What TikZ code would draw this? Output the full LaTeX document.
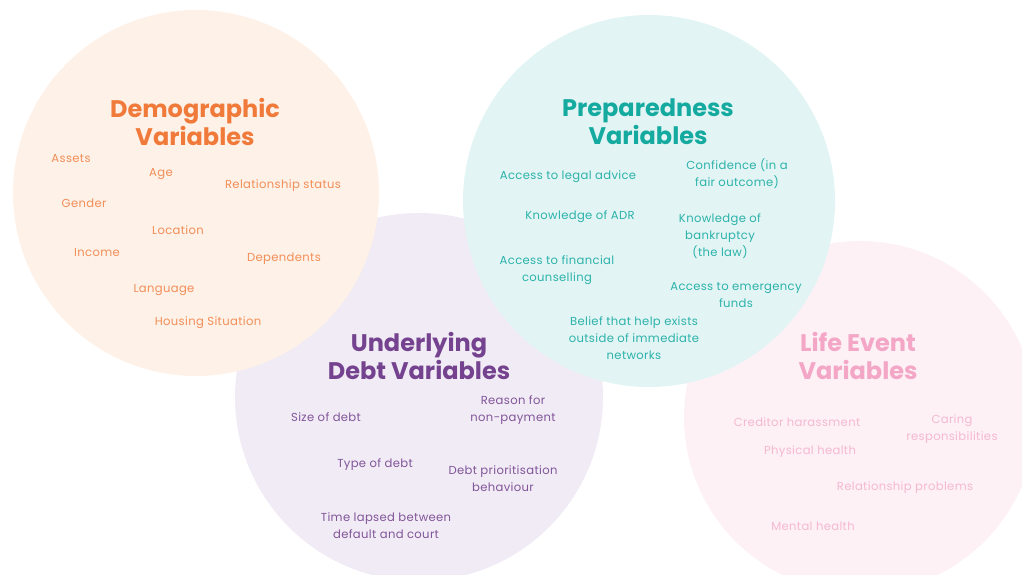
\documentclass[tikz,border=0pt]{standalone}
\usepackage{fontspec}
\setmainfont{Poppins}
\usepackage{xcolor}
\usetikzlibrary{calc}

\definecolor{demofill}{HTML}{FEF1E8}
\definecolor{demotext}{HTML}{F07A3A}
\definecolor{prepfill}{HTML}{E2F5F4}
\definecolor{preptext}{HTML}{15AAA0}
\definecolor{debtfill}{HTML}{F0EBF4}
\definecolor{debttext}{HTML}{74428F}
\definecolor{lifefill}{HTML}{FDF1F5}
\definecolor{lifetext}{HTML}{F3A6C6}

\begin{document}
\begin{tikzpicture}[x=1pt,y=-1pt]
\tikzset{
    bubble/.style={circle, draw=none, inner sep=0pt},
    head/.style={align=center, inner sep=0pt, font=\fontsize{24}{28}\selectfont\bfseries},
    item/.style={align=center, inner sep=0pt, font=\fontsize{11.6}{17}\selectfont\addfontfeatures{LetterSpace=3}}
}
\useasboundingbox (0,0) rectangle (1022,575);

% Circles
\node[bubble, fill=debtfill, minimum size=368pt] (debt) at (419,397){};
\node[bubble, fill=lifefill, minimum size=352pt] (life) at (860,417){};
\node[bubble, fill=demofill, minimum size=366pt] (demo) at (196,193){};
\node[bubble, fill=prepfill, minimum size=372pt] (prep) at (649,201){};

% Demographic
\node[head, text=demotext] (demohead) at (195,122){Demographic\\Variables};
\node[item, text=demotext!85] (assets) at (71,159){Assets};
\node[item, text=demotext!85] (age) at (161,174){Age};
\node[item, text=demotext!85] (relstatus) at (283,186){Relationship status};
\node[item, text=demotext!85] (gender) at (84,203){Gender};
\node[item, text=demotext!85] (location) at (178,230){Location};
\node[item, text=demotext!85] (income) at (97,253){Income};
\node[item, text=demotext!85] (dependents) at (284,259){Dependents};
\node[item, text=demotext!85] (language) at (164,290){Language};
\node[item, text=demotext!85] (housing) at (208,323){Housing Situation};

% Preparedness
\node[head, text=preptext] (prephead) at (648,122){Preparedness\\Variables};
\node[item, text=preptext!90] (legal) at (568,177){Access to legal advice};
\node[item, text=preptext!90] (confidence) at (737,173.5){Confidence (in a\\fair outcome)};
\node[item, text=preptext!90] (adr) at (580,217){Knowledge of ADR};
\node[item, text=preptext!90] (bankruptcy) at (720,236){Knowledge of\\bankruptcy\\(the law)};
\node[item, text=preptext!90] (counselling) at (557,270.5){Access to financial\\counselling};
\node[item, text=preptext!90] (emergency) at (736,295){Access to emergency\\funds};
\node[item, text=preptext!90] (belief) at (634,338){Belief that help exists\\outside of immediate\\networks};

% Underlying debt
\node[head, text=debttext] (debthead) at (419,356){Underlying\\Debt Variables};
\node[item, text=debttext!90] (size) at (326,417){Size of debt};
\node[item, text=debttext!90] (reason) at (513,410.5){Reason for\\non-payment};
\node[item, text=debttext!90] (type) at (375,465){Type of debt};
\node[item, text=debttext!90] (priority) at (503,478.5){Debt prioritisation\\behaviour};
\node[item, text=debttext!90] (lapsed) at (386,525.5){Time lapsed between\\default and court};

% Life event
\node[head, text=lifetext] (lifehead) at (858,356){Life Event\\Variables};
\node[item, text=lifetext!80] (creditor) at (797,422){Creditor harassment};
\node[item, text=lifetext!80] (caring) at (952,429.5){Caring\\responsibilities};
\node[item, text=lifetext!80] (physical) at (810,452){Physical health};
\node[item, text=lifetext!80] (relproblems) at (905,488){Relationship problems};
\node[item, text=lifetext!80] (mental) at (813,526){Mental health};

\end{tikzpicture}
\end{document}
